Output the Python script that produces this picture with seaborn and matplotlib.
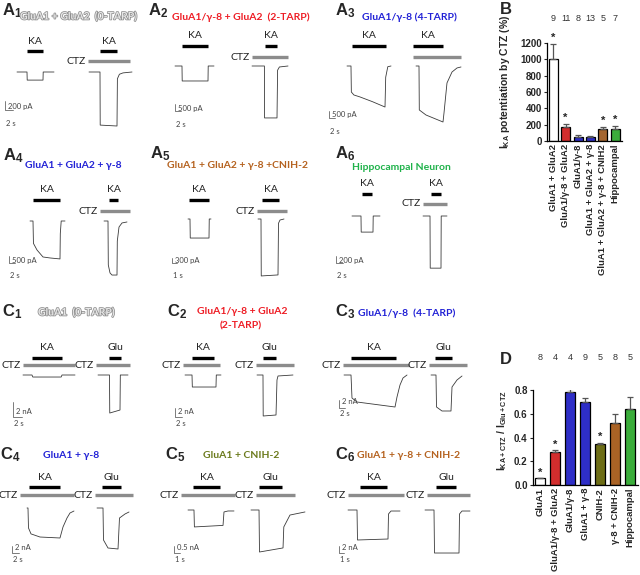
import matplotlib
matplotlib.use("Agg")
import matplotlib.pyplot as plt
import matplotlib.patheffects as pe
import seaborn as sns

# ---------------- bar chart data ----------------
B_LABELS = ["GluA1 + GluA2", "GluA1/γ-8 + GluA2", "GluA1/γ-8", "GluA1 + GluA2 + γ-8",
            "GluA1 + GluA2 + γ-8 + CNIH2", "Hippocampal"]
B_MEANS = [1000, 175, 50, 45, 145, 152]
B_SEM = [185, 30, 18, 12, 22, 28]
B_N = [9, 11, 8, 13, 5, 7]
B_STARS = [True, True, False, False, True, True]
B_COLORS = ["#ffffff", "#ee1111", "#1515e0", "#1515e0", "#b8641e", "#28c028"]

D_LABELS = ["GluA1", "GluA1/γ-8 + GluA2", "GluA1/γ-8", "GluA1 + γ-8", "CNIH-2",
            "γ-8 + CNIH-2", "Hippocampal"]
D_MEANS = [0.055, 0.28, 0.78, 0.70, 0.345, 0.525, 0.64]
D_SEM = [0.006, 0.011, 0.027, 0.034, 0.012, 0.07, 0.10]
D_N = [8, 4, 4, 9, 5, 8, 5]
D_STARS = [True, True, False, False, True, False, False]
D_COLORS = ["#ffffff", "#ee1111", "#1515e0", "#1515e0", "#7c7c06", "#c0620f", "#28c028"]

# ---------------- current traces: time (s), current (nA) ----------------
A1_KA_T = [3.0, 5.5, 5.55, 9.5, 9.55, 12.25]
A1_KA_I = [0, 0, -0.18, -0.18, 0, 0]
A1_CTZ_T = [21.0, 23.75, 23.8, 28.0, 28.1, 28.6, 29.5, 31.75]
A1_CTZ_I = [0, 0, -1.18, -1.2, -0.15, -0.05, -0.02, 0]
A1_STIM = [("KA", 5.5, 9.5), ("CTZ", 20.75, 31.25), ("KA", 23.75, 28.0)]

A2_KA_T = [0.0, 2.33, 2.4, 11.0, 11.07, 13.0]
A2_KA_I = [0, 0, -1.07, -1.07, 0, 0]
A2_CTZ_T = [25.67, 29.8, 29.85, 34.0, 34.2, 34.8, 37.67]
A2_CTZ_I = [0, 0, -3.71, -3.71, -0.3, -0.07, 0]
A2_STIM = [("KA", 2.33, 11.0), ("CTZ", 25.67, 37.67), ("KA", 30.0, 34.0)]

A3_KA_T = [6.0, 7.33, 7.45, 8.3, 10.33, 14.5, 18.67, 18.9, 19.6, 20.67]
A3_KA_I = [0, 0, -1.86, -2.07, -2.21, -2.55, -2.93, -0.8, -0.05, 0]
A3_CTZ_T = [29.0, 30.0, 30.1, 32.33, 38.0, 38.33, 39.33, 41.0, 42.67, 44.0]
A3_CTZ_I = [0, 0, -3.14, -3.5, -4.0, -3.36, -1.21, -0.43, -0.14, -0.07]
A3_STIM = [("KA", 7.67, 19.0), ("CTZ", 28.0, 44.0), ("KA", 28.0, 38.0)]

A4_KA_T = [7.0, 8.0, 8.15, 9.33, 11.33, 13.67, 17.0, 17.1, 17.4, 18.67]
A4_KA_I = [0, 0, -1.6, -2.07, -2.57, -2.64, -2.71, -0.9, 0, 0]
A4_CTZ_T = [31.67, 33.0, 33.1, 33.67, 34.33, 36.0, 36.1, 36.67, 37.67, 39.33]
A4_CTZ_I = [0, 0, -3.14, -3.71, -3.86, -3.86, -1.43, -0.43, -0.14, -0.07]
A4_STIM = [("KA", 8.0, 17.0), ("CTZ", 30.33, 40.33), ("KA", 33.33, 36.33)]

A5_KA_T = [3.2, 3.6, 3.65, 7.4, 7.45, 7.8]
A5_KA_I = [0, 0, -1.12, -1.12, 0, 0]
A5_CTZ_T = [17.2, 17.8, 17.85, 21.2, 21.3, 21.6, 22.4]
A5_CTZ_I = [0, 0, -3.35, -3.29, -0.25, -0.06, 0]
A5_STIM = [("KA", 3.4, 7.4), ("CTZ", 17.0, 23.0), ("KA", 18.0, 21.4)]

A6_KA_T = [4.57, 7.14, 7.2, 10.57, 10.63, 12.57]
A6_KA_I = [0, 0, -0.46, -0.46, 0, 0]
A6_CTZ_T = [24.86, 26.86, 26.92, 30.0, 30.06, 31.71]
A6_CTZ_I = [0, 0, -1.49, -1.49, 0, 0]
A6_STIM = [("KA", 7.43, 10.29), ("CTZ", 24.86, 31.71), ("KA", 27.14, 30.0)]

C1_KA_T = [2.22, 4.22, 4.4, 10.7, 10.89, 13.78]
C1_KA_I = [0, 0, -0.27, -0.27, 0, 0]
C1_GLU_T = [18.89, 21.44, 21.5, 23.78, 23.85, 25.56]
C1_GLU_I = [0, 0, -5.07, -4.67, 0, 0]
C1_STIM = [("CTZ", 2.22, 13.78), ("KA", 4.22, 10.89), ("CTZ", 18.44, 26.0), ("Glu", 21.33, 24.0)]

C2_KA_T = [2.86, 4.86, 4.95, 11.71, 11.8, 13.14]
C2_KA_I = [0, 0, -2.67, -2.67, 0, 0]
C2_GLU_T = [23.43, 25.14, 25.2, 28.86, 29.14, 29.43, 33.71]
C2_GLU_I = [0, 0, -9.11, -8.89, -1.1, -0.22, 0]
C2_STIM = [("CTZ", 2.29, 12.86), ("KA", 4.86, 11.14), ("CTZ", 23.14, 34.0), ("Glu", 25.14, 28.86)]

C3_KA_T = [1.67, 4.0, 4.33, 6.0, 18.67, 19.33, 20.33, 21.33, 22.67]
C3_KA_I = [0, 0, -5.75, -6.75, -8.0, -5.5, -2.5, -0.75, 0]
C3_GLU_T = [30.67, 32.33, 32.5, 34.33, 37.33, 37.67, 39.33, 41.0]
C3_GLU_I = [0, 0, -8.0, -9.0, -9.0, -3.0, -1.25, -0.25]
C3_STIM = [("CTZ", 1.33, 23.33), ("KA", 4.0, 19.0), ("CTZ", 30.0, 42.67), ("Glu", 32.0, 37.67)]

C4_KA_T = [4.29, 4.57, 4.71, 5.43, 8.0, 13.71, 14.57, 15.71, 16.57, 17.71]
C4_KA_I = [0, 0, -5.7, -7.4, -8.29, -8.57, -5.43, -2.86, -1.43, -0.86]
C4_GLU_T = [24.29, 26.0, 26.14, 27.43, 30.29, 30.71, 32.29, 33.43]
C4_GLU_I = [0, 0, -9.14, -11.43, -11.71, -2.86, -1.71, -1.14]
C4_STIM = [("CTZ", 2.29, 17.71), ("KA", 4.86, 13.71), ("CTZ", 23.71, 34.57), ("Glu", 25.71, 31.14)]

C5_KA_T = [2.33, 3.33, 3.4, 8.17, 8.33, 9.0, 10.0]
C5_KA_I = [0, 0, -1.21, -1.1, -0.14, -0.07, -0.07]
C5_GLU_T = [12.83, 14.17, 14.25, 18.17, 18.3, 19.33, 21.83]
C5_GLU_I = [0, 0, -3.0, -2.71, -1.21, -0.36, -0.14]
C5_STIM = [("CTZ", 1.17, 10.17), ("KA", 3.17, 7.67), ("CTZ", 13.67, 20.17), ("Glu", 14.17, 18.0)]

C6_KA_T = [1.8, 3.6, 3.7, 9.8, 9.9, 10.4, 12.2]
C6_KA_I = [0, 0, -8.57, -8.29, -1.14, -0.29, -0.29]
C6_GLU_T = [17.2, 19.0, 19.1, 24.0, 24.1, 24.6, 26.2]
C6_GLU_I = [0, 0, -12.29, -12.29, -1.14, -0.29, -0.29]
C6_STIM = [("CTZ", 1.8, 13.0), ("KA", 4.2, 9.6), ("CTZ", 17.6, 26.2), ("Glu", 19.4, 23.4)]

# ---------------- layout ----------------
W, H = 640, 575
TXT = ["Lato", "DejaVu Sans"]
ARIAL = ["Liberation Sans", "DejaVu Sans"]
RED, BLUE, BROWN, GREEN, OLIVE = "#ee1c24", "#2121d6", "#b5621f", "#1fb24a", "#6b7a1c"
TRACE_C, CTZ_C, SCALE_C = "#3a3a3a", "#8c8c8c", "#666666"

sns.set_style("ticks")
plt.rcParams["font.family"] = TXT
plt.rcParams["mathtext.fontset"] = "custom"
plt.rcParams["mathtext.rm"] = "Liberation Sans"
plt.rcParams["mathtext.it"] = "Liberation Sans:italic"
plt.rcParams["mathtext.bf"] = "Liberation Sans:bold"


def px_rect(x0, y0, x1, y1):
    return [x0 / W, 1 - y1 / H, (x1 - x0) / W, (y1 - y0) / H]


def trace_axes(fig, x0, yb, kx, ky):
    # t=0 sits on pixel column x0, I=0 on pixel row yb
    left, right, top, bottom = x0 - 15, x0 + 150, yb - 50, yb + 70
    ax = fig.add_axes(px_rect(left, top, right, bottom))
    ax.set_xlim((left - x0) / kx, (right - x0) / kx)
    ax.set_ylim(-(bottom - yb) / ky, (yb - top) / ky)
    ax.axis("off")
    return ax


def draw_panel(fig, lay, traces, stim, scale, ctz_label, row_c):
    x0, yb, kx, ky, ka_dy, ctz_dy = lay
    ax = trace_axes(fig, x0, yb, kx, ky)
    for t, i in traces:
        ax.plot(t, i, color=TRACE_C, lw=0.6, clip_on=False)
    for name, t0, t1 in stim:
        if name == "CTZ":
            y = ctz_dy / ky
            ax.plot([t0, t1], [y, y], color=CTZ_C, lw=2.4, solid_capstyle="butt", clip_on=False)
            if ctz_label:
                ax.text(t0 - 2 / kx, y, "CTZ", ha="right", va="center", fontsize=7.5, color="#222222")
        else:
            y = ka_dy / ky
            ax.plot([t0, t1], [y, y], color="black", lw=2.4, solid_capstyle="butt", clip_on=False)
            ax.text((t0 + t1) / 2, (ka_dy + 10) / ky, name, ha="center", va="center",
                    fontsize=7.5, color="#222222")
    (cx, cy), t_len, i_len, i_txt, t_txt = scale
    tc, ic = (cx - x0) / kx, -(cy - yb) / ky
    ax.plot([tc, tc, tc + t_len], [ic + i_len, ic, ic], color=SCALE_C, lw=0.6, clip_on=False)
    v_off, t_off = (3, -13) if row_c == "A" else (6, -6)
    ax.text(tc + 3 / kx, ic + v_off / ky, i_txt, ha="left", va="center", fontsize=5.5, color="#444444")
    ax.text(tc + 1 / kx, ic + t_off / ky, t_txt, ha="left", va="center", fontsize=5.5, color="#444444")


def bar_panel(fig, rect, labels, means, sems, ns, colors, stars, ymax, yticks, ytl,
              ylabel, ylab_xy, n_y, star_dy, width):
    ax = fig.add_axes(rect)
    sns.barplot(x=labels, y=means, hue=labels, palette=colors, legend=False, errorbar=None,
                edgecolor="black", linewidth=0.9, width=width, ax=ax)
    ax.errorbar(range(len(means)), means, yerr=[[0] * len(means), sems], fmt="none",
                ecolor="#555555", elinewidth=0.9, capsize=2.2, capthick=0.9, zorder=1)
    ax.set_xlim(-0.5, len(means) - 0.5)
    ax.set_ylim(0, ymax)
    ax.set_yticks(yticks)
    ax.set_yticklabels(ytl, fontsize=7, fontweight="bold", family=ARIAL)
    ax.set_xticks(range(len(labels)))
    ax.set_xticklabels(labels, rotation=90, fontsize=6.8, fontweight="bold", family=ARIAL)
    ax.tick_params(axis="x", length=0, pad=2)
    ax.tick_params(axis="y", length=2.5, width=0.8, pad=1)
    sns.despine(ax=ax)
    for s in ("left", "bottom"):
        ax.spines[s].set_linewidth(0.9)
        ax.spines[s].set_color("black")
    ax.set_ylabel(ylabel, fontsize=7.5, fontweight="bold", family=ARIAL)
    ax.yaxis.set_label_coords(*ylab_xy)
    for k, n in enumerate(ns):
        ax.text(k, n_y, str(n), transform=ax.get_xaxis_transform(), ha="center", va="center",
                fontsize=6.5, color="#333333", family=ARIAL)
    for k, st in enumerate(stars):
        if st:
            ax.text(k, means[k] + sems[k] + star_dy, "*", ha="center", va="center",
                    fontsize=8, fontweight="bold", family=ARIAL, clip_on=False)
    return ax


fig = plt.figure(figsize=(6.4, 5.75), dpi=100)

# (x0 px, baseline px, px per s, px per nA, stim bar height px, CTZ bar height px)
PANELS = [
    ((5, 72, 4.0, 45.0, 21, 11), [(A1_KA_T, A1_KA_I), (A1_CTZ_T, A1_CTZ_I)], A1_STIM,
     ((5, 110), 2, 0.2, "200 pA", "2 s"), True, "A"),
    ((175, 66, 3.0, 14.0, 20, 9), [(A2_KA_T, A2_KA_I), (A2_CTZ_T, A2_CTZ_I)], A2_STIM,
     ((175, 111), 2, 0.5, "500 pA", "2 s"), True, "A"),
    ((329, 66, 3.0, 14.0, 20, 9), [(A3_KA_T, A3_KA_I), (A3_CTZ_T, A3_CTZ_I)], A3_STIM,
     ((329, 118), 2, 0.5, "500 pA", "2 s"), False, "A"),
    ((9, 221, 3.0, 14.0, 21, 10), [(A4_KA_T, A4_KA_I), (A4_CTZ_T, A4_CTZ_I)], A4_STIM,
     ((9, 263), 2, 0.5, "500 pA", "2 s"), True, "A"),
    ((172, 219, 5.0, 17.0, 19, 8), [(A5_KA_T, A5_KA_I), (A5_CTZ_T, A5_CTZ_I)], A5_STIM,
     ((172, 263), 1, 0.3, "300 pA", "1 s"), True, "A"),
    ((336, 216, 3.5, 35.0, 22, 12), [(A6_KA_T, A6_KA_I), (A6_CTZ_T, A6_CTZ_I)], A6_STIM,
     ((336, 263), 2, 0.2, "200 pA", "2 s"), True, "A"),
    ((13, 375, 4.5, 7.5, 17, 10), [(C1_KA_T, C1_KA_I), (C1_GLU_T, C1_GLU_I)], C1_STIM,
     ((13, 417), 2, 2, "2 nA", "2 s"), True, "C"),
    ((175, 375, 3.5, 4.5, 17, 10), [(C2_KA_T, C2_KA_I), (C2_GLU_T, C2_GLU_I)], C2_STIM,
     ((175, 417), 2, 2, "2 nA", "2 s"), True, "C"),
    ((339, 375, 3.0, 4.0, 17, 10), [(C3_KA_T, C3_KA_I), (C3_GLU_T, C3_GLU_I)], C3_STIM,
     ((339, 408), 2, 2, "2 nA", "2 s"), True, "C"),
    ((12, 508, 3.5, 3.5, 21, 13), [(C4_KA_T, C4_KA_I), (C4_GLU_T, C4_GLU_I)], C4_STIM,
     ((12, 553), 2, 2, "2 nA", "2 s"), True, "C"),
    ((174, 510, 6.0, 14.0, 23, 15), [(C5_KA_T, C5_KA_I), (C5_GLU_T, C5_GLU_I)], C5_STIM,
     ((174, 553), 1, 0.5, "0.5 nA", "1 s"), True, "C"),
    ((339, 510, 5.0, 3.5, 23, 15), [(C6_KA_T, C6_KA_I), (C6_GLU_T, C6_GLU_I)], C6_STIM,
     ((339, 553), 1, 2, "2 nA", "1 s"), True, "C"),
]
for p in PANELS:
    draw_panel(fig, *p)

# panel letters
for txt, x, y in [("A_1", 2, 11), ("A_2", 148, 11), ("A_3", 335, 11),
                  ("A_4", 3, 156), ("A_5", 150, 154), ("A_6", 335, 154),
                  ("C_1", 2, 312), ("C_2", 167, 312), ("C_3", 335, 312),
                  ("C_4", 0, 455), ("C_5", 165, 455), ("C_6", 335, 455)]:
    fig.text(x / W, 1 - y / H, r"$\mathbf{%s}$" % txt, fontsize=12, ha="left", va="center")
for txt, x, y in [("B", 500, 9), ("D", 500, 360)]:
    fig.text(x / W, 1 - y / H, txt, fontsize=12, fontweight="bold", family=ARIAL,
             ha="left", va="center")

# panel titles
outline = [pe.withStroke(linewidth=1.1, foreground="#8e8e8e")]
for x, y, txt, col in [(20, 17, "GluA1 + GluA2  (0-TARP)", None),
                       (172, 17, "GluA1/γ-8 + GluA2  (2-TARP)", RED),
                       (362, 17, "GluA1/γ-8 (4-TARP)", BLUE),
                       (25, 166, "GluA1 + GluA2 + γ-8", BLUE),
                       (167, 166, "GluA1 + GluA2 + γ-8 +CNIH-2", BROWN),
                       (352, 167, "Hippocampal Neuron", GREEN),
                       (38, 313, "GluA1  (0-TARP)", None),
                       (197, 312, "GluA1/γ-8 + GluA2", RED),
                       (358, 313, "GluA1/γ-8  (4-TARP)", BLUE),
                       (43, 456, "GluA1 + γ-8", BLUE),
                       (203, 456, "GluA1 + CNIH-2", OLIVE),
                       (357, 456, "GluA1 + γ-8 + CNIH-2", BROWN)]:
    if col is None:
        fig.text(x / W, 1 - y / H, txt, fontsize=7.5, fontweight="bold", color="#e6e6e6",
                 ha="left", va="center", path_effects=outline)
    else:
        fig.text(x / W, 1 - y / H, txt, fontsize=7.5, fontweight="bold", color=col,
                 ha="left", va="center")
fig.text(241 / W, 1 - 326 / H, "(2-TARP)", fontsize=7.5, fontweight="bold", color=RED,
         ha="center", va="center")

# B: CTZ potentiation
bar_panel(fig, px_rect(547, 43, 621.5, 141), B_LABELS, B_MEANS, B_SEM, B_N, B_COLORS, B_STARS,
          1200, range(0, 1201, 200), [str(v) for v in range(0, 1201, 200)],
          r"I$_{\mathbf{KA}}$ potentiation by CTZ (%)", (-0.47, 0.6), 1.245, 75, 0.72)

# D: KA / Glu ratio
bar_panel(fig, px_rect(532.5, 390, 637.5, 485), D_LABELS, D_MEANS, D_SEM, D_N, D_COLORS, D_STARS,
          0.8, [0, 0.2, 0.4, 0.6, 0.8], ["0.0", "0.2", "0.4", "0.6", "0.8"],
          r"I$_{\mathbf{KA+CTZ}}$ / I$_{\mathbf{Glu+CTZ}}$", (-0.22, 0.57), 1.347, 0.045, 0.67)

fig.savefig("out.png", dpi=100)
